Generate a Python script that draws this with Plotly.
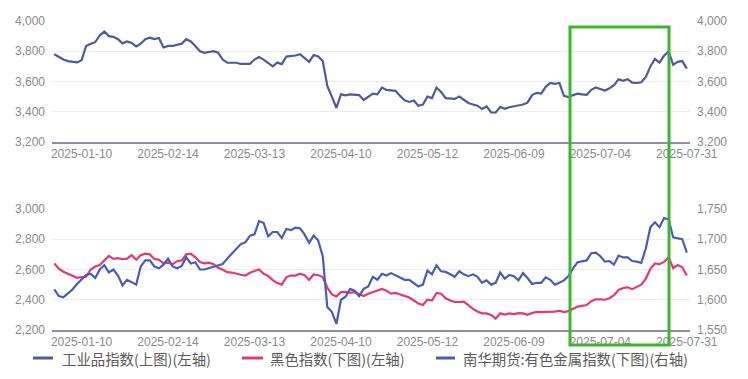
import pandas as pd
import plotly.graph_objects as go

# ---------------- data ----------------
holidays = ["2025-01-01", "2025-01-28", "2025-01-29", "2025-01-30", "2025-01-31",
            "2025-02-03", "2025-02-04", "2025-04-04", "2025-05-01", "2025-05-02",
            "2025-05-05", "2025-06-02"]
dates = [d.strftime("%Y-%m-%d") for d in pd.bdate_range("2025-01-02", "2025-07-31")
         if d.strftime("%Y-%m-%d") not in holidays]

tick_labels = ["2025-01-10", "2025-02-14", "2025-03-13", "2025-04-10",
               "2025-05-12", "2025-06-09", "2025-07-04", "2025-07-31"]

industrial = [
    3780, 3760, 3745, 3735, 3728, 3726, 3740, 3835, 3850, 3860,
    3905, 3930, 3900, 3895, 3880, 3852, 3865, 3855, 3832, 3850,
    3880, 3890, 3880, 3888, 3825, 3835, 3835, 3845, 3850, 3880,
    3865, 3835, 3800, 3790, 3795, 3800, 3790, 3745, 3725, 3725,
    3724, 3716, 3714, 3716, 3745, 3762, 3745, 3725, 3700, 3725,
    3715, 3765, 3768, 3772, 3780, 3758, 3730, 3775, 3765, 3735,
    3570, 3500, 3425, 3515, 3508, 3515, 3515, 3510, 3478, 3498,
    3520, 3515, 3560, 3545, 3542, 3538, 3505, 3475, 3465, 3475,
    3440, 3448, 3500, 3490, 3560, 3530, 3490, 3487, 3485, 3500,
    3478, 3458, 3448, 3440, 3418, 3435, 3395, 3395, 3432, 3420,
    3430, 3436, 3440, 3448, 3460, 3510, 3525, 3520, 3565, 3590,
    3585, 3590, 3505, 3497, 3510, 3520, 3515, 3512, 3545, 3560,
    3550, 3540, 3555, 3575, 3615, 3605, 3615, 3592, 3590, 3595,
    3630, 3700, 3750, 3725, 3770, 3800, 3710, 3730, 3735, 3685,
]

ferrous = [
    2640, 2605, 2585, 2570, 2558, 2545, 2550, 2552, 2600, 2620,
    2630, 2660, 2690, 2670, 2675, 2668, 2672, 2695, 2665, 2695,
    2705, 2700, 2670, 2665, 2640, 2645, 2635, 2655, 2660, 2700,
    2705, 2680, 2650, 2640, 2645, 2635, 2612, 2598, 2582, 2580,
    2570, 2565, 2560, 2578, 2590, 2600, 2572, 2558, 2530, 2510,
    2500, 2550, 2560, 2560, 2572, 2562, 2532, 2567, 2562, 2550,
    2480, 2435, 2422, 2450, 2452, 2445, 2450, 2438, 2425, 2440,
    2450, 2462, 2472, 2460, 2440, 2445, 2435, 2430, 2415, 2395,
    2375, 2365, 2400, 2395, 2445, 2440, 2410, 2395, 2385, 2385,
    2388, 2365, 2340, 2322, 2310, 2310, 2300, 2275, 2310, 2302,
    2310, 2305, 2312, 2310, 2300, 2312, 2320, 2318, 2318, 2320,
    2322, 2327, 2318, 2325, 2338, 2355, 2360, 2365, 2390, 2403,
    2402, 2400, 2410, 2430, 2465, 2478, 2482, 2470, 2485, 2500,
    2540, 2605, 2640, 2635, 2650, 2680, 2610, 2630, 2615, 2560,
]

nonferrous = [
    1617, 1606, 1604, 1610, 1617, 1626, 1634, 1641, 1643, 1636,
    1650, 1657, 1645, 1650, 1640, 1624, 1633, 1629, 1625, 1655,
    1665, 1665, 1655, 1652, 1658, 1668, 1655, 1652, 1656, 1670,
    1660, 1662, 1650, 1650, 1652, 1654, 1657, 1659, 1668, 1676,
    1685, 1692, 1695, 1706, 1708, 1730, 1727, 1705, 1712, 1712,
    1702, 1717, 1715, 1719, 1718, 1708, 1694, 1706, 1698, 1672,
    1588, 1580, 1560, 1600, 1605, 1618, 1615, 1606, 1618, 1622,
    1638, 1633, 1643, 1640, 1644, 1640, 1636, 1633, 1633, 1627,
    1622, 1625, 1648, 1642, 1657, 1647, 1646, 1642, 1638, 1647,
    1642, 1639, 1642, 1638, 1628, 1632, 1625, 1628, 1645, 1635,
    1641, 1639, 1632, 1644, 1636, 1626, 1628, 1628, 1637, 1633,
    1625, 1628, 1632, 1639, 1652, 1662, 1664, 1665, 1677, 1678,
    1672, 1663, 1664, 1658, 1673, 1670, 1670, 1664, 1663, 1661,
    1685, 1720, 1728, 1720, 1735, 1733, 1703, 1702, 1700, 1678,
]

names = ["工业品指数(上图)(左轴)", "黑色指数(下图)(左轴)", "南华期货:有色金属指数(下图)(右轴)"]
colors = ["#4e5a9c", "#e23a6e", "#4a5bb8"]

# ---------------- figure ----------------
W, H = 748, 379
def px(x):
    return x / W
def py(y):
    return 1 - y / H

fig = go.Figure()
fig.add_trace(go.Scatter(x=dates, y=industrial, mode="lines", name=names[0],
                         line=dict(color=colors[0], width=2.2), xaxis="x", yaxis="y"))
fig.add_trace(go.Scatter(x=dates, y=industrial, mode="lines", opacity=0, showlegend=False,
                         hoverinfo="skip", line=dict(color=colors[0], width=0),
                         xaxis="x", yaxis="y3"))
fig.add_trace(go.Scatter(x=dates, y=ferrous, mode="lines", name=names[1],
                         line=dict(color=colors[1], width=2.2), xaxis="x2", yaxis="y2"))
fig.add_trace(go.Scatter(x=dates, y=nonferrous, mode="lines", name=names[2],
                         line=dict(color=colors[2], width=2.2), xaxis="x2", yaxis="y4"))

tickfont = dict(family="Liberation Sans, Arial, sans-serif", size=12, color="#8a8a8a")
xdom = [px(52), px(690)]
xcommon = dict(type="category", categoryorder="array", categoryarray=dates,
               range=[-0.5, len(dates) - 0.3], tickmode="array", tickvals=tick_labels,
               ticktext=tick_labels, showgrid=False, showline=True, linecolor="#8e8ea8",
               linewidth=2, ticks="", tickfont=tickfont, domain=xdom, automargin=False,
               zeroline=False, fixedrange=True)
ycommon = dict(showgrid=True, gridcolor="#ececec", gridwidth=1, showline=False,
               zeroline=False, ticks="", tickfont=tickfont, automargin=False,
               tickformat=",d", ticklabelstandoff=6)

top_dom = [py(142), py(21)]
bot_dom = [py(330), py(209)]

fig.update_layout(
    width=W, height=H,
    margin=dict(l=0, r=0, t=0, b=0),
    paper_bgcolor="white", plot_bgcolor="white",
    showlegend=False,
    xaxis=dict(xcommon, anchor="y"),
    xaxis2=dict(xcommon, anchor="y2"),
    yaxis=dict(ycommon, domain=top_dom, range=[3200, 4000], dtick=200, anchor="x", side="left"),
    yaxis3=dict(ycommon, range=[3200, 4000], dtick=200, overlaying="y", side="right",
                anchor="x", showgrid=False),
    yaxis2=dict(ycommon, domain=bot_dom, range=[2200, 3000], dtick=200, anchor="x2", side="left"),
    yaxis4=dict(ycommon, range=[1550, 1750], dtick=50, overlaying="y2", side="right",
                anchor="x2", showgrid=False),
)

# highlight box
fig.add_shape(type="rect", xref="paper", yref="paper",
              x0=px(570), x1=px(669), y0=py(345), y1=py(27),
              line=dict(color="#3cb531", width=3), fillcolor="rgba(0,0,0,0)", layer="above")

# legend (manual)
leg_y = py(358)
leg_lines = [(33, 53), (242, 263), (436, 455)]
leg_text_x = [60, 268, 461]
for (x0, x1), tx, nm, c in zip(leg_lines, leg_text_x, names, colors):
    fig.add_shape(type="line", xref="paper", yref="paper", x0=px(x0), x1=px(x1),
                  y0=leg_y, y1=leg_y, line=dict(color=c, width=3))
    fig.add_annotation(xref="paper", yref="paper", x=px(tx), y=leg_y, text=nm,
                       showarrow=False, xanchor="left", yanchor="middle",
                       font=dict(family="Noto Sans CJK SC, sans-serif", size=14.4, color="#5a5a5a"))

fig.write_html("out.html", config={"displayModeBar": False},
               post_script="document.body.style.margin='0';document.body.style.padding='0';"
                           "document.documentElement.style.overflow='hidden';")
